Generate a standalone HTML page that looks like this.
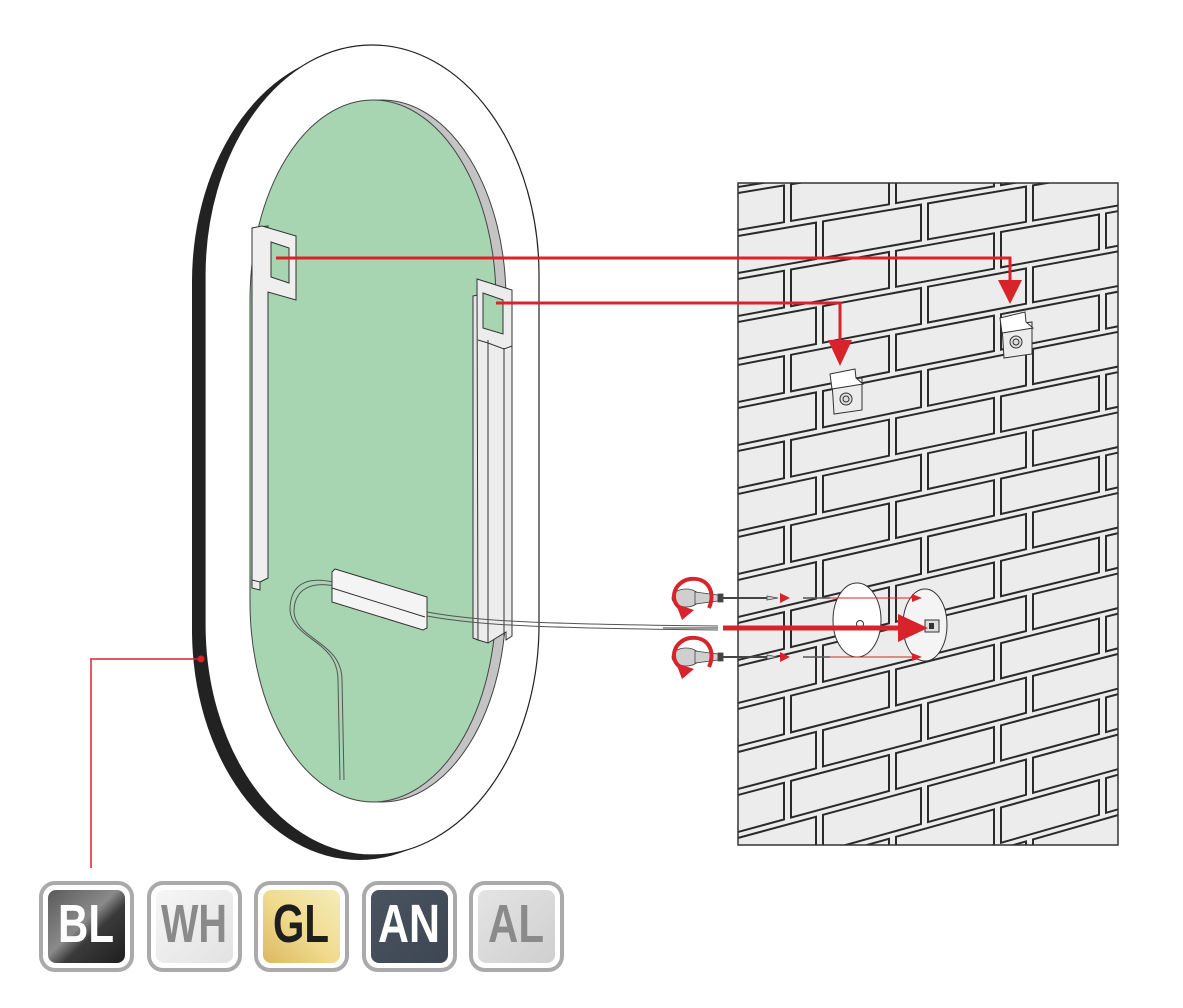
<!DOCTYPE html>
<html><head><meta charset="utf-8">
<style>
html,body{margin:0;padding:0;background:#fff;width:1183px;height:1008px;overflow:hidden;}
body{position:relative;font-family:"Liberation Sans Narrow","Liberation Sans",sans-serif;}
svg{position:absolute;left:0;top:0;display:block;}
</style></head>
<body>
<svg id="s" width="1183" height="1008" viewBox="0 0 1183 1008" xmlns="http://www.w3.org/2000/svg">
<defs>
<clipPath id="wc"><rect x="738" y="183" width="380" height="662"/></clipPath>
<linearGradient id="gBL" x1="0" y1="0" x2="1" y2="1"><stop offset="0" stop-color="#5a5a5a"/><stop offset="0.45" stop-color="#8a8a8a"/><stop offset="0.6" stop-color="#3a3a3a"/><stop offset="1" stop-color="#1e1e1e"/></linearGradient>
<linearGradient id="gWH" x1="0" y1="0" x2="1" y2="1"><stop offset="0" stop-color="#f6f6f6"/><stop offset="1" stop-color="#e2e2e2"/></linearGradient>
<linearGradient id="gGL" x1="1" y1="0" x2="0" y2="1"><stop offset="0" stop-color="#f6ecb8"/><stop offset="0.5" stop-color="#f0dc90"/><stop offset="1" stop-color="#dcb860"/></linearGradient>
<linearGradient id="gAN" x1="0" y1="0" x2="1" y2="1"><stop offset="0" stop-color="#4a5360"/><stop offset="1" stop-color="#3d4653"/></linearGradient>
<linearGradient id="gAL" x1="0" y1="0" x2="1" y2="1"><stop offset="0" stop-color="#e4e4e4"/><stop offset="1" stop-color="#cfcfcf"/></linearGradient>
</defs>

<!-- wall -->
<rect x="738" y="183" width="380" height="662" fill="#ececec"/>
<g id="bricks" clip-path="url(#wc)" fill="#ececec" stroke="#2a2a2a" stroke-width="2"></g>
<rect x="738" y="183" width="380" height="662" fill="none" stroke="#333" stroke-width="1.5"/>

<!-- mirror -->
<path d="M192,282 A167,230 0 0 1 526,282 L526,630 A167,230 0 0 1 192,630 Z" fill="#222"/>
<path d="M205,275 A167,230 0 0 1 539,275 L539,625 A167,230 0 0 1 205,625 Z" fill="#fff" stroke="#222" stroke-width="1.2"/>
<path d="M258,300 A124,200 0 0 1 506,300 L506,602 A124,200 0 0 1 258,602 Z" fill="#c4c4c4" stroke="#444" stroke-width="1"/>
<path d="M250,300 A123,200 0 0 1 496,300 L496,602 A123,200 0 0 1 250,602 Z" fill="#a7d4b1" stroke="#444" stroke-width="1"/>

<!-- left bracket -->
<g stroke="#333" stroke-width="1" fill="#ececec">
<polygon points="252,228 268,226 268,578 260,582 260,590 252,588"/>
<polygon points="252,228 262,226 296,236 296,300 268,292 268,578 260,582 252,580" fill="#efefef"/>
<polygon points="271,242 289,248 289,283 271,277" fill="#a7d4b1"/>
</g>
<!-- right bracket -->
<g stroke="#333" stroke-width="1" fill="#e6e6e6">
<polygon points="473,296 478,295 478,640 473,638"/>
<polygon points="477,279 512,290 512,636 506,640 506,632 488,643 478,640" fill="#ececec"/>
<polygon points="483,293 503,300 503,334 483,328" fill="#a7d4b1"/>
<line x1="488" y1="340" x2="488" y2="643"/>
<line x1="504" y1="348" x2="504" y2="636"/>
<polyline points="478,340 488,343 504,349 512,346" fill="none"/>
</g>

<!-- cable -->
<g fill="none" stroke="#555" stroke-width="1">
<path d="M333,582 C300,575 290,590 290,610 C292,640 338,640 338,680 L340,780"/>
<path d="M335,586 C305,580 294,594 294,612 C296,640 342,642 342,680 L344,780"/>
<path d="M427,612 C470,620 520,624 718,626"/>
<path d="M427,616 C470,624 520,628 718,630"/>
</g>
<g stroke="#333" stroke-width="1">
<polygon points="335,569 427,597 427,628 423,630 332,602 332,572" fill="#f4f4f4"/>
<line x1="332" y1="588" x2="425" y2="617"/>
</g>

<!-- red connector to badges -->
<polyline points="201,659 91,659 91,868" fill="none" stroke="#d8232a" stroke-width="1.5"/>
<circle cx="201" cy="659" r="3.5" fill="#d8232a"/>

<!-- wall brackets -->
<g stroke="#333" stroke-width="1">
<polygon points="1002,326 1032,322 1032,354 1004,358" fill="#ececec"/>
<polygon points="1000,318 1025,312 1026,322 1033,328 1002,333" fill="#fff"/>
<circle cx="1016" cy="342" r="6" fill="#ddd"/><circle cx="1016" cy="342" r="3" fill="none"/>
<polygon points="832,382 862,378 862,410 834,414" fill="#ececec"/>
<polygon points="830,374 855,369 856,378 863,384 832,389" fill="#fff"/>
<circle cx="846" cy="399" r="6" fill="#ddd"/><circle cx="846" cy="399" r="3" fill="none"/>
</g>

<!-- red arrows -->
<g fill="none" stroke="#d8232a" stroke-width="3">
<polyline points="276,258 1010,258 1010,285"/>
<polyline points="496,303 840,303 840,345"/>
</g>
<polygon points="998,280 1022,280 1010,304" fill="#d8232a"/>
<polygon points="828,340 852,340 840,366" fill="#d8232a"/>

<!-- screwdrivers -->
<g stroke="#444" stroke-width="0.8">
<ellipse cx="686" cy="598" rx="14" ry="9" fill="#cfcfcf"/>
<path d="M695,592 L718,595 L718,601 L695,604 Z" fill="#cfcfcf"/>
<rect x="718" y="594" width="5" height="8" fill="#444"/>
<line x1="723" y1="598" x2="770" y2="598" stroke-width="2"/>
<path d="M767,596 L778,598 L767,600Z" fill="#ccc"/>
<ellipse cx="686" cy="657" rx="14" ry="9" fill="#cfcfcf"/>
<path d="M695,651 L718,654 L718,660 L695,663 Z" fill="#cfcfcf"/>
<rect x="718" y="653" width="5" height="8" fill="#444"/>
<line x1="723" y1="657" x2="770" y2="657" stroke-width="2"/>
<path d="M767,655 L778,657 L767,659Z" fill="#ccc"/>
</g>
<g fill="none" stroke="#d8232a" stroke-width="4">
<path d="M684,610 C668,604 672,582 690,579 C708,577 716,592 709,608"/>
<path d="M684,669 C668,663 672,641 690,638 C708,636 716,651 709,667"/>
</g>
<polygon points="676,604 694,610 682,620" fill="#d8232a"/>
<polygon points="676,663 694,669 682,679" fill="#d8232a"/>
<polygon points="780,593 790,598 780,603" fill="#d8232a"/>
<polygon points="780,652 790,657 780,662" fill="#d8232a"/>
<g stroke="#555" stroke-width="1.5">
<line x1="803" y1="598" x2="830" y2="598"/>
<line x1="803" y1="657" x2="830" y2="657"/>
</g>
<!-- discs -->
<ellipse cx="857" cy="620" rx="24" ry="37" fill="#fff" stroke="#333" stroke-width="1"/>
<circle cx="860" cy="624" r="3.5" fill="#fff" stroke="#333"/>
<ellipse cx="925" cy="625" rx="22" ry="36" fill="#f4f4f4" stroke="#333" stroke-width="1"/>
<rect x="925" y="620" width="14" height="12" fill="#ddd" stroke="#333"/>
<rect x="929" y="623" width="5" height="6" fill="#333"/>
<g stroke="#d8232a" stroke-width="1">
<line x1="830" y1="598" x2="915" y2="598"/>
<line x1="830" y1="657" x2="915" y2="657"/>
</g>
<polygon points="912,594 922,598 912,602" fill="#d8232a"/>
<polygon points="912,653 922,657 912,661" fill="#d8232a"/>
<line x1="723" y1="628" x2="905" y2="628" stroke="#d8232a" stroke-width="5"/>
<polygon points="898,614 928,628 898,642" fill="#d8232a"/>
<line x1="663" y1="628" x2="718" y2="628" stroke="#999" stroke-width="2"/>

<!-- badges -->
<g font-family="'Liberation Sans Narrow','Liberation Sans',sans-serif" font-weight="bold" font-size="54" text-anchor="middle" lengthAdjust="spacingAndGlyphs">
<rect x="41" y="883" width="91" height="87" rx="14" fill="#fff" stroke="#aaa" stroke-width="4"/>
<rect x="48" y="890" width="77" height="73" rx="8" fill="url(#gBL)"/>
<text x="86" y="942" fill="#fff" textLength="56" lengthAdjust="spacingAndGlyphs">BL</text>
<rect x="149" y="883" width="91" height="87" rx="14" fill="#fff" stroke="#aaa" stroke-width="4"/>
<rect x="156" y="890" width="77" height="73" rx="8" fill="url(#gWH)"/>
<text x="194" y="942" fill="#8a8a8a" textLength="66" lengthAdjust="spacingAndGlyphs">WH</text>
<rect x="256" y="883" width="91" height="87" rx="14" fill="#fff" stroke="#aaa" stroke-width="4"/>
<rect x="263" y="890" width="77" height="73" rx="8" fill="url(#gGL)"/>
<text x="301" y="942" fill="#1e1e1e" textLength="56" lengthAdjust="spacingAndGlyphs">GL</text>
<rect x="364" y="883" width="91" height="87" rx="14" fill="#fff" stroke="#aaa" stroke-width="4"/>
<rect x="371" y="890" width="77" height="73" rx="8" fill="url(#gAN)"/>
<text x="409" y="942" fill="#fff" textLength="62" lengthAdjust="spacingAndGlyphs">AN</text>
<rect x="471" y="883" width="91" height="87" rx="14" fill="#fff" stroke="#aaa" stroke-width="4"/>
<rect x="478" y="890" width="77" height="73" rx="8" fill="url(#gAL)"/>
<text x="516" y="942" fill="#8a8a8a" textLength="56" lengthAdjust="spacingAndGlyphs">AL</text>
</g>
</svg>
<script>
(function(){
var g=document.getElementById('bricks');
var Vx=6700,Vy=-786,X0=738;
function Y(t,x){return Vy+(t-Vy)*(Vx-x)/(Vx-X0);}
var P=43,H=37,W=98,PX=105,s='';
for(var k=0;k<26;k++){
 var t=150+k*P;
 var off=(k%2)?-52:-20;
 for(var x=738+off-PX;x<1130;x+=PX){
  var x1=x,x2=x+W;
  s+='<polygon points="'+x1+','+Y(t,x1).toFixed(1)+' '+x2+','+Y(t,x2).toFixed(1)+' '+x2+','+Y(t+H,x2).toFixed(1)+' '+x1+','+Y(t+H,x1).toFixed(1)+'"/>';
 }
}
g.innerHTML=s;
})();
</script>
</body></html>
